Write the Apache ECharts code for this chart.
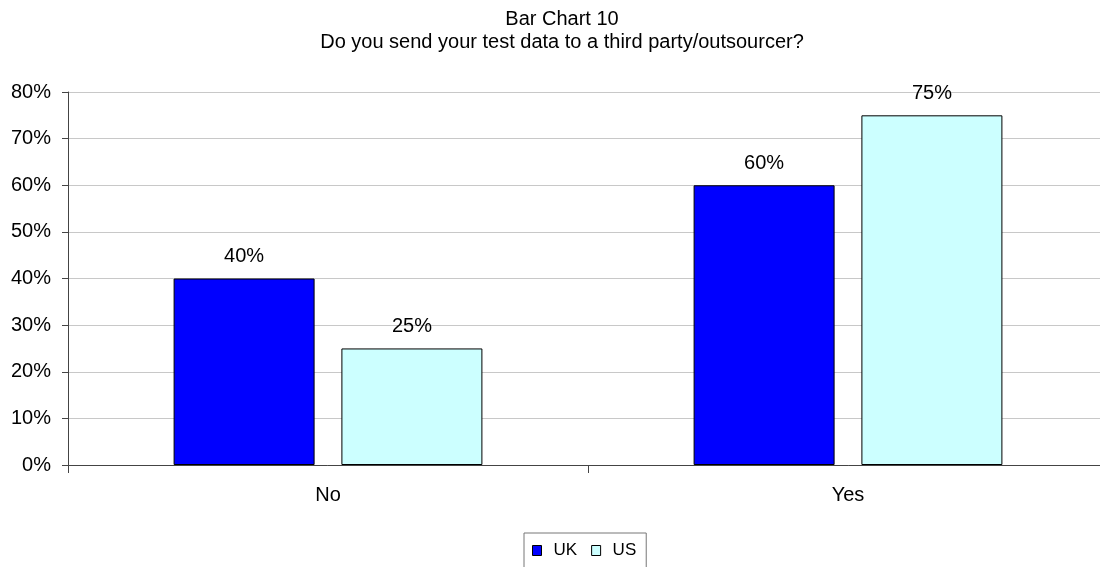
<!DOCTYPE html>
<html>
<head>
<meta charset="utf-8">
<script src="https://cdn.jsdelivr.net/npm/echarts@6/dist/echarts.min.js"></script>
<style>
  html, body { margin: 0; padding: 0; background: #fff; overflow: hidden; }
  /* plot runs slightly past the right edge of the window */
  #chart { width: 1108px; height: 567px; }
</style>
</head>
<body>
<div id="chart"></div>
<script>
// Survey answers, percent of respondents
const categories = ['No', 'Yes'];
const seriesNames = ['UK', 'US'];
const ukValues = [40, 60];
const usValues = [25, 75];
const yTicks = [0, 10, 20, 30, 40, 50, 60, 70, 80];

const FONT = '"Liberation Sans", Arial, sans-serif';

const chart = echarts.init(document.getElementById('chart'), null, { renderer: 'canvas' });

function barSeries(name, values, color) {
  return {
    name: name,
    type: 'bar',
    data: values,
    barWidth: 141,
    barGap: '19%',
    itemStyle: { color: color, borderColor: '#000', borderWidth: 1 },
    label: {
      show: true,
      position: 'top',
      distance: 12,
      formatter: '{c}%',
      color: '#000',
      fontFamily: FONT,
      fontSize: 20
    }
  };
}

chart.setOption({
  animation: false,
  backgroundColor: '#fff',
  title: {
    text: 'Bar Chart 10\nDo you send your test data to a third party/outsourcer?',
    left: 557,
    top: 3,
    textAlign: 'center',
    textStyle: {
      fontFamily: FONT,
      fontSize: 20,
      fontWeight: 'normal',
      color: '#000',
      lineHeight: 23
    }
  },
  legend: {
    data: seriesNames,
    left: 524,
    top: 533,
    orient: 'horizontal',
    padding: [9, 10, 9, 8],
    borderColor: '#777',
    borderWidth: 1,
    itemWidth: 9,
    itemHeight: 10,
    itemGap: 14,
    icon: 'rect',
    itemStyle: { borderColor: '#000', borderWidth: 1 },
    textStyle: {
      fontFamily: FONT,
      fontSize: 17,
      color: '#000',
      padding: [0, 0, 0, 7]
    }
  },
  grid: {
    left: 68,
    top: 92,
    bottom: 102,
    right: 0,
    containLabel: false
  },
  xAxis: {
    type: 'category',
    data: categories,
    axisLine: { lineStyle: { color: '#444', width: 1 } },
    axisTick: { show: true, length: 8, lineStyle: { color: '#444' } },
    axisLabel: {
      margin: 20,
      fontFamily: FONT,
      fontSize: 20,
      color: '#000'
    },
    splitLine: { show: false }
  },
  yAxis: {
    type: 'value',
    min: yTicks[0],
    max: yTicks[yTicks.length - 1],
    interval: yTicks[1] - yTicks[0],
    axisLine: { show: true, lineStyle: { color: '#444', width: 1 } },
    axisTick: { show: true, length: 6, lineStyle: { color: '#444' } },
    axisLabel: {
      margin: 17,
      formatter: '{value}%',
      fontFamily: FONT,
      fontSize: 20,
      color: '#000'
    },
    splitLine: { show: true, lineStyle: { color: '#c8c8c8', width: 1 } }
  },
  series: [
    barSeries(seriesNames[0], ukValues, '#0000ff'),
    barSeries(seriesNames[1], usValues, '#ccffff')
  ]
});
</script>
</body>
</html>
